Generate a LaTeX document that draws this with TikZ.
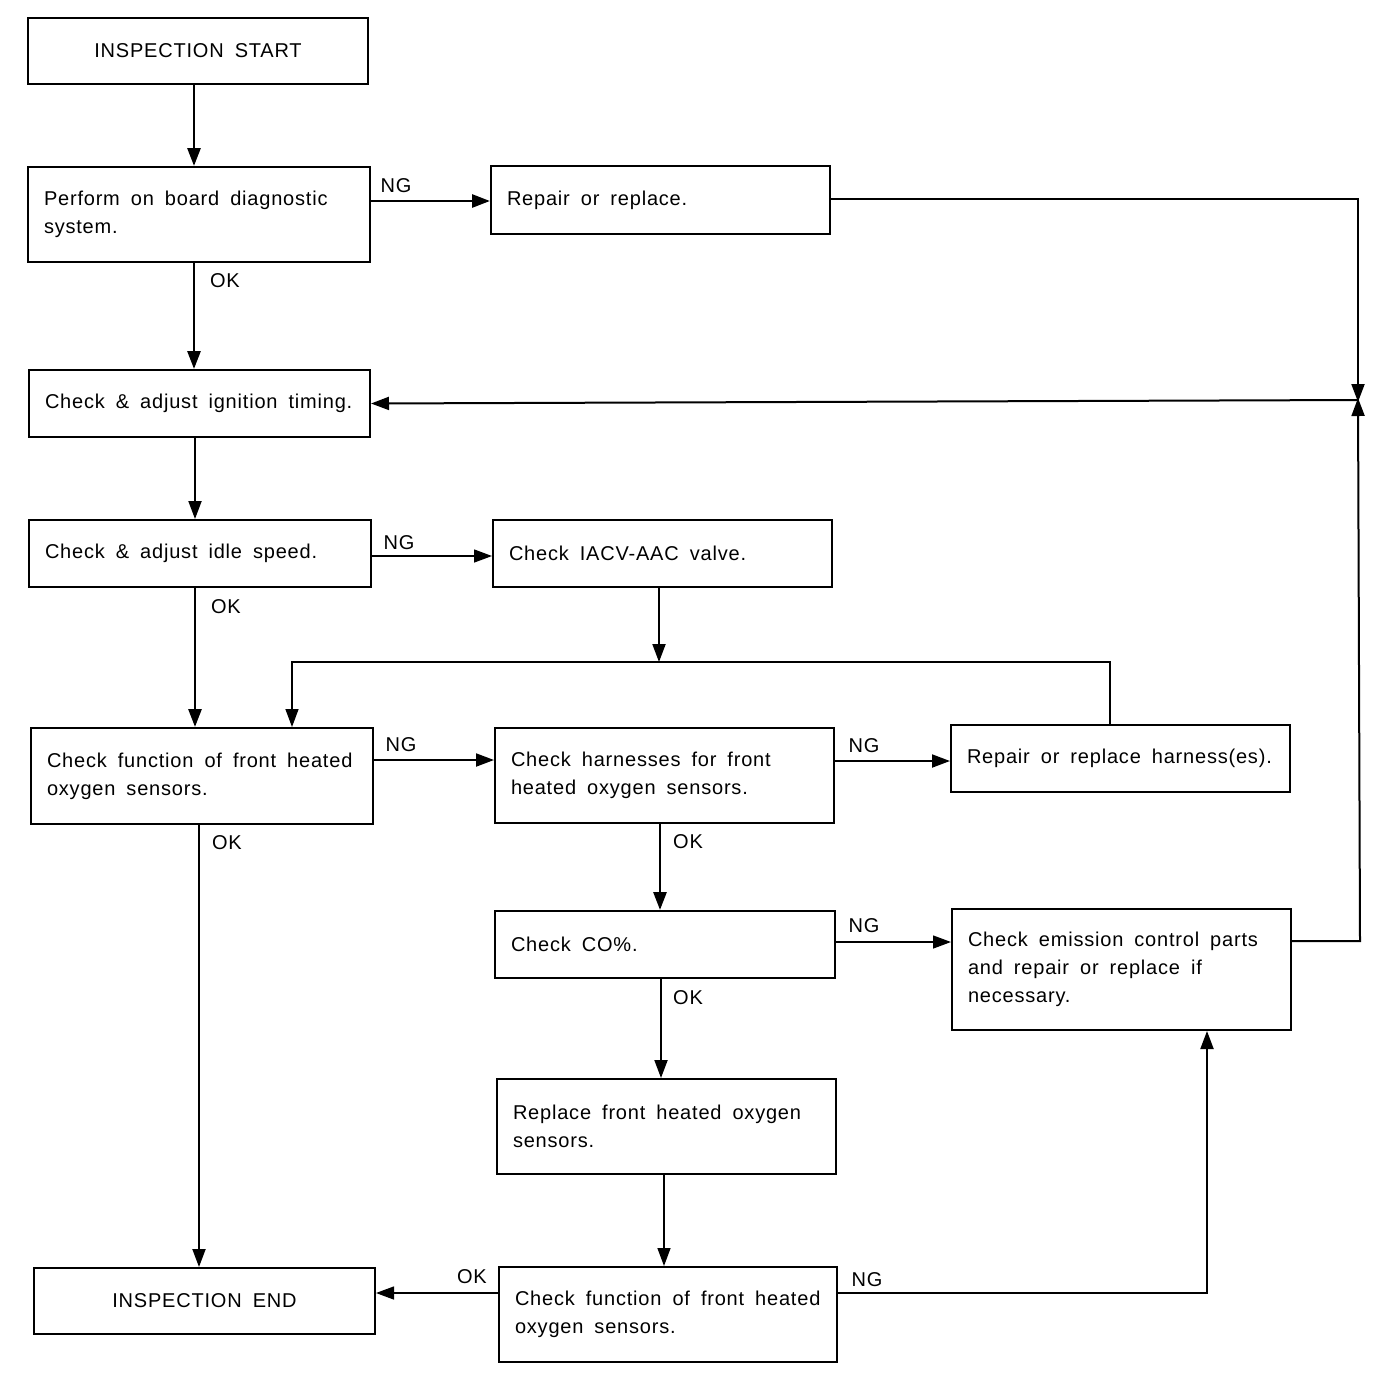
\documentclass[tikz,border=0pt]{standalone}
\usepackage{fontspec}
\setmainfont[LetterSpace=4]{Liberation Sans}
\usetikzlibrary{arrows.meta}
\protected\def\wsp{\spaceskip=0.55em\relax}
\tikzset{
  txt/.style={font=\fontsize{20}{28}\selectfont},
  box/.style={draw, line width=2pt, anchor=north west, inner xsep=16pt, inner ysep=0pt, align=left, txt},
  cbox/.style={draw, line width=2pt, anchor=north west, inner sep=0pt, align=center, txt},
  lbl/.style={txt, inner sep=0pt},
  tip/.style={-{Triangle[length=18pt,width=13pt]}},
  thk/.style={line width=2.8pt},
  med/.style={line width=2pt},
  thn/.style={line width=1.4pt},
}
\newcommand\bx[6]{\node[box, text width=#4pt-32pt, minimum height=#5pt] (#1) at (#2,#3) {\wsp #6};}
\begin{document}
\begin{tikzpicture}[x=1pt,y=-1pt]
\useasboundingbox (0,0) rectangle (1392,1382);
\node[cbox, minimum width=340pt, minimum height=66pt] (start) at (27,17) {\wsp INSPECTION START};
\bx{perform}{27}{166}{342}{95}{Perform on board diagnostic\\system.}
\bx{repair}{490}{165}{339}{68}{Repair or replace.}
\bx{ign}{28}{369}{341}{67}{Check \& adjust ignition timing.}
\bx{idle}{28}{519}{342}{67}{Check \& adjust idle speed.}
\bx{iacv}{492}{519}{339}{67}{Check IACV-AAC valve.}
\bx{cfa}{30}{727}{342}{96}{Check function of front heated\\oxygen sensors.}
\bx{harn}{494}{727}{339}{95}{Check harnesses for front\\heated oxygen sensors.}
\bx{rharn}{950}{724}{339}{67}{Repair or replace harness(es).}
\bx{co}{494}{910}{340}{67}{Check CO\%.}
\bx{emis}{951}{908}{339}{121}{Check emission control parts\\and repair or replace if\\necessary.}
\bx{repl}{496}{1078}{339}{95}{Replace front heated oxygen\\sensors.}
\bx{cfb}{498}{1266}{338}{95}{Check function of front heated\\oxygen sensors.}
\node[cbox, minimum width=341pt, minimum height=66pt] (endn) at (33,1267) {\wsp INSPECTION END};

\coordinate (J) at (1358,400);
\coordinate (M) at (659,662);

% connectors
\draw[thk,tip] (start.south -| 194,0) -- (perform.north -| 194,0);
\draw[thk,tip] (perform.east |- 0,201) -- (repair.west |- 0,201);
\draw[thk,tip] (perform.south -| 194,0) -- (ign.north -| 194,0);
\draw[med,tip] (repair.east |- 0,199) -- (1358,199) -- ([yshift=-2pt]J);
\draw[med,tip] (J) -- (ign.east);
\draw[med,tip] (ign.south -| 195,0) -- (idle.north -| 195,0);
\draw[thn,tip] (idle.east |- 0,556) -- (iacv.west |- 0,556);
\draw[thk,tip] (idle.south -| 195,0) -- (cfa.north -| 195,0);
\draw[med,tip] (iacv.south -| M) -- (M);
\draw[thn,tip] (rharn.north -| 1110,0) -- (1110,662) -- (292,662) -- (cfa.north -| 292,0);
\draw[med,tip] (cfa.east |- 0,760) -- (harn.west |- 0,760);
\draw[med,tip] (cfa.south -| 199,0) -- (endn.north -| 199,0);
\draw[med,tip] (harn.east |- 0,761) -- (rharn.west |- 0,761);
\draw[thk,tip] (harn.south -| 660,0) -- (co.north -| 660,0);
\draw[thn,tip] (co.east |- 0,942) -- (emis.west |- 0,942);
\draw[med,tip] (co.south -| 661,0) -- (repl.north -| 661,0);
\draw[thn,tip] (repl.south -| 664,0) -- (cfb.north -| 664,0);
\draw[thn,tip] (cfb.west |- 0,1293) -- (endn.east |- 0,1293);
\draw[med,tip] (cfb.east |- 0,1293) -- (1207,1293) -- (emis.south -| 1207,0);
\draw[med,tip] (emis.east |- 0,941) -- (1360,941) -- ([yshift=2pt]J);

% labels
\node[lbl] (l1) at (396,186) {NG};
\node[lbl] (l2) at (225,281) {OK};
\node[lbl] (l3) at (399,543) {NG};
\node[lbl] (l4) at (226,607) {OK};
\node[lbl] (l5) at (401,745) {NG};
\node[lbl] (l6) at (227,843) {OK};
\node[lbl] (l7) at (864,746) {NG};
\node[lbl] (l8) at (688,842) {OK};
\node[lbl] (l9) at (864,926) {NG};
\node[lbl] (l10) at (688,998) {OK};
\node[lbl] (l11) at (472,1277) {OK};
\node[lbl] (l12) at (867,1280) {NG};
\end{tikzpicture}
\end{document}
